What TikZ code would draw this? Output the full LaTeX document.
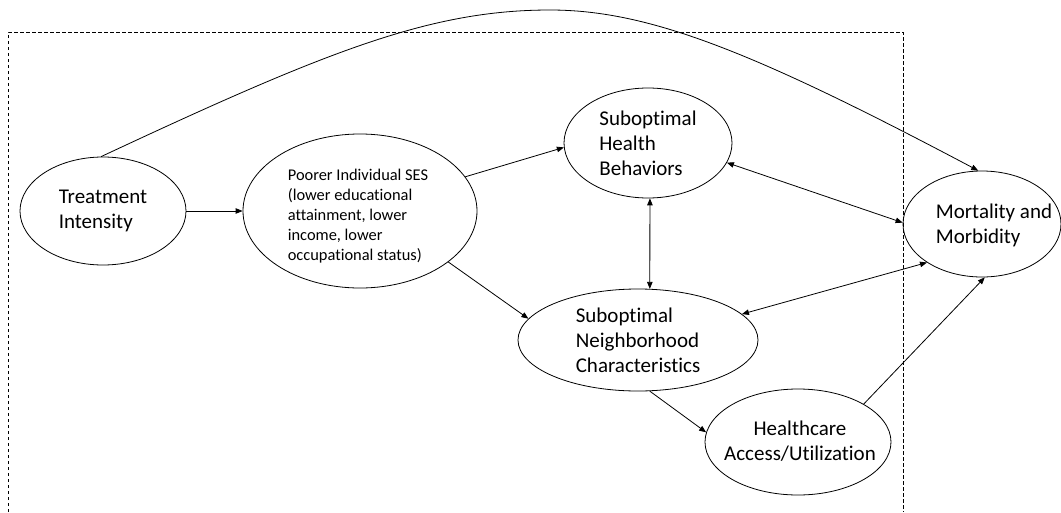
\documentclass[tikz,border=0pt]{standalone}
\usepackage{fontspec}
\setmainfont{Carlito}[Ligatures={NoCommon}]
\usetikzlibrary{shapes.geometric,arrows.meta}
\tikzset{
  oval/.style={draw, ellipse, line width=0.8pt, inner sep=0pt, align=left},
  bigtxt/.style={font=\fontsize{21}{25}\selectfont},
  smalltxt/.style={font=\fontsize{16.4}{20}\selectfont},
  txt/.style={inner sep=0pt},
  arr/.style={line width=0.8pt, -{Triangle[length=7pt,width=5.5pt]}},
  dbl/.style={line width=0.8pt, {Triangle[length=7pt,width=5.5pt]}-{Triangle[length=7pt,width=5.5pt]}},
  frame/.style={line width=0.8pt, dash pattern=on 3.5pt off 2.5pt}
}
\begin{document}
\begin{tikzpicture}[x=1pt,y=-1pt]
\useasboundingbox (0,0) rectangle (1061,512);
\draw[frame] (8,512) -- (8,32) -- (903,32) -- (903,512);

\node[oval, bigtxt, minimum width=166pt, minimum height=108pt] (treat) at (103,211) {Treatment\\Intensity};
\node[oval, minimum width=234pt, minimum height=154pt] (ses) at (360,211) {};
\node[txt, smalltxt, align=left] (sestext) at (358,216)
  {Poorer Individual SES\\(lower educational\\attainment, lower\\income, lower\\occupational status)};
\node[oval, bigtxt, minimum width=168pt, minimum height=110pt] (health) at (648,143) {Suboptimal\\Health\\Behaviors};
\node[oval, minimum width=158pt, minimum height=106pt] (mort) at (982,224) {};
\node[txt, bigtxt, align=left] (morttext) at (994,225) {Mortality and\\Morbidity};
\node[oval, bigtxt, minimum width=240pt, minimum height=102pt] (neigh) at (638,340) {Suboptimal\\Neighborhood\\Characteristics};
\node[oval, minimum width=186pt, minimum height=106pt] (hc) at (798,442) {};
\node[txt, bigtxt, align=center] (hctext) at (800,441) {Healthcare\\Access/Utilization};

\draw[arr] (treat) -- (ses);
\draw[arr] (ses.18) -- (health.183);
\draw[arr] (ses.-30) -- (neigh.169);
\draw[dbl] (health.-88) -- (neigh.77);
\draw[dbl] (health.-14) -- (mort.179);
\draw[dbl] (neigh.14) -- (mort.215);
\draw[arr] (neigh.-77) -- (hc.174);
\draw[arr] (hc.30) -- (mort.-87);
\coordinate (peak) at (550,10);
\draw[arr] (treat.92) .. controls (327,51) and (430,10) .. (peak)
  .. controls (650,10) and (756,53) .. (mort.94);
\end{tikzpicture}
\end{document}
